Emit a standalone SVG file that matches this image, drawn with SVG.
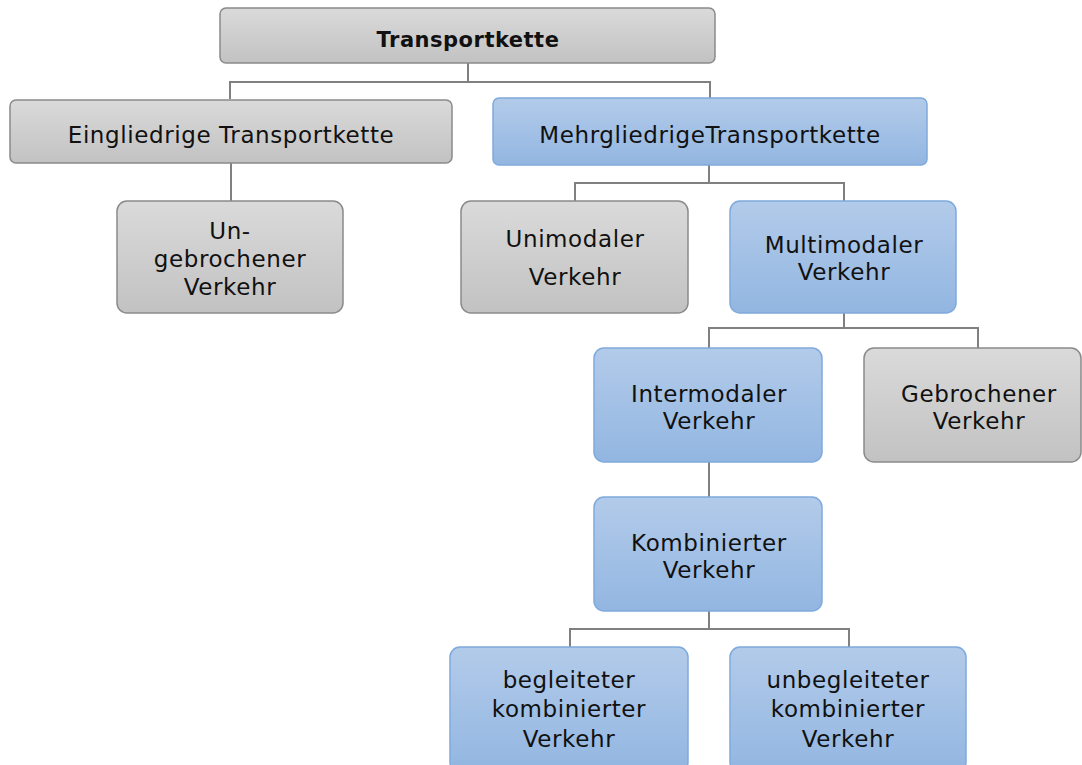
<svg xmlns="http://www.w3.org/2000/svg" width="1082" height="765" viewBox="0 0 1082 765">
<defs>
<linearGradient id="gGray" x1="0" y1="0" x2="0" y2="1">
<stop offset="0" stop-color="#dadada"/>
<stop offset="1" stop-color="#c2c2c2"/>
</linearGradient>
<linearGradient id="gBlue" x1="0" y1="0" x2="0" y2="1">
<stop offset="0" stop-color="#b3cbea"/>
<stop offset="1" stop-color="#92b6e1"/>
</linearGradient>
<style>
.gray{fill:url(#gGray);stroke:#8a8a8a;stroke-width:1.5}
.blue{fill:url(#gBlue);stroke:#7fa9dc;stroke-width:1.5}
.t{font-family:"DejaVu Sans","Liberation Sans",sans-serif;font-size:23px;fill:#111;text-anchor:middle;letter-spacing:0.6px}
.b{font-weight:bold;font-size:21px;letter-spacing:0.5px}
.c{fill:none;stroke:#808080;stroke-width:2}
</style>
</defs>
<g id="connectors">
<path class="c" d="M468 63V82M230 99V82H710V99"/>
<path class="c" d="M231 163V201"/>
<path class="c" d="M709 165V183M575 201V183H844V201"/>
<path class="c" d="M844 313V328M709 348V328H978V348"/>
<path class="c" d="M709 462V497"/>
<path class="c" d="M709 611V629M570 647V629H849V647"/>
</g>
<g id="n-transportkette">
<rect class="gray" x="220" y="8" width="495" height="55" rx="6"/>
<text class="t b" x="468" y="47">Transportkette</text>
</g>
<g id="n-eingliedrige">
<rect class="gray" x="10" y="100" width="442" height="63" rx="6"/>
<text class="t" x="231" y="143">Eingliedrige Transportkette</text>
</g>
<g id="n-mehrgliedrige">
<rect class="blue" x="493" y="98" width="434" height="67" rx="6"/>
<text class="t" x="710" y="143">MehrgliedrigeTransportkette</text>
</g>
<g id="n-ungebrochener">
<rect class="gray" x="117" y="201" width="226" height="112" rx="10"/>
<text class="t" x="230" y="239">Un-</text>
<text class="t" x="230" y="267">gebrochener</text>
<text class="t" x="230" y="295">Verkehr</text>
</g>
<g id="n-unimodaler">
<rect class="gray" x="461" y="201" width="227" height="112" rx="10"/>
<text class="t" x="575" y="247">Unimodaler</text>
<text class="t" x="575" y="285">Verkehr</text>
</g>
<g id="n-multimodaler">
<rect class="blue" x="730" y="201" width="226" height="112" rx="10"/>
<text class="t" x="844" y="253">Multimodaler</text>
<text class="t" x="844" y="280">Verkehr</text>
</g>
<g id="n-intermodaler">
<rect class="blue" x="594" y="348" width="228" height="114" rx="10"/>
<text class="t" x="709" y="402">Intermodaler</text>
<text class="t" x="709" y="429">Verkehr</text>
</g>
<g id="n-gebrochener">
<rect class="gray" x="864" y="348" width="217" height="114" rx="10"/>
<text class="t" x="979" y="402">Gebrochener</text>
<text class="t" x="979" y="429">Verkehr</text>
</g>
<g id="n-kombinierter">
<rect class="blue" x="594" y="497" width="228" height="114" rx="10"/>
<text class="t" x="709" y="551">Kombinierter</text>
<text class="t" x="709" y="578">Verkehr</text>
</g>
<g id="n-begleiteter">
<rect class="blue" x="450" y="647" width="238" height="125" rx="10"/>
<text class="t" x="569" y="688">begleiteter</text>
<text class="t" x="569" y="717">kombinierter</text>
<text class="t" x="569" y="747">Verkehr</text>
</g>
<g id="n-unbegleiteter">
<rect class="blue" x="730" y="647" width="236" height="125" rx="10"/>
<text class="t" x="848" y="688">unbegleiteter</text>
<text class="t" x="848" y="717">kombinierter</text>
<text class="t" x="848" y="747">Verkehr</text>
</g>
</svg>
